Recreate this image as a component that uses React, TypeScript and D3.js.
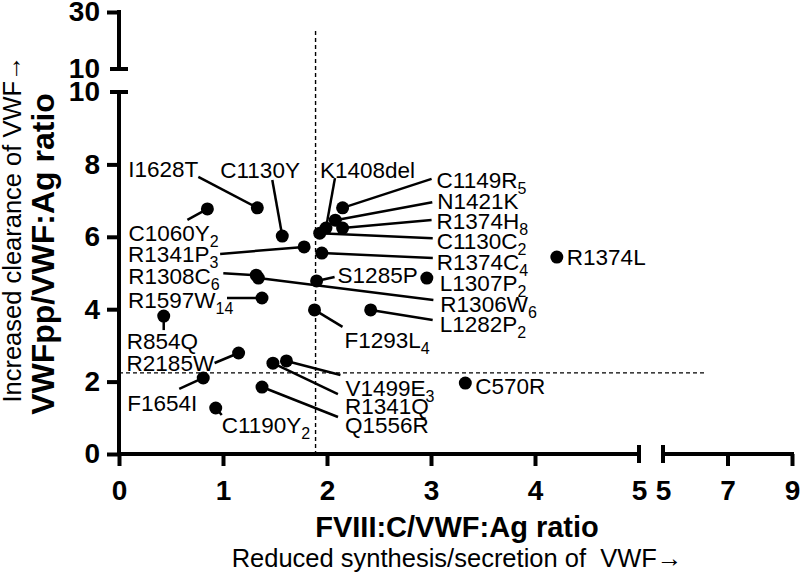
import { useEffect, useRef } from "react";
import * as d3 from "d3";

// ── Data ──────────────────────────────────────────────────────────────────
const MUTATIONS = [
  "I1628T", "C1130Y", "K1408del", "C1149R", "N1421K", "R1374H", "C1130C",
  "R1374C", "R1341P", "C1060Y", "R1374L", "S1285P", "L1307P", "R1308C",
  "R1306W", "R1597W", "L1282P", "F1293L", "R854Q", "R2185W", "F1654I",
  "V1499E", "R1341Q", "Q1556R", "C1190Y", "C570R",
];
const SUBSCRIPTS = [
  "", "", "", "5", "", "8", "2",
  "4", "3", "2", "", "", "2", "6",
  "6", "14", "2", "4", "", "", "",
  "3", "", "", "2", "",
];
const FVIII_RATIO = [
  1.33, 1.57, 1.99, 2.15, 2.08, 2.15, 1.93,
  1.95, 1.78, 0.85, 4.21, 1.90, 2.96, 1.32,
  1.34, 1.375, 2.42, 1.88, 0.43, 1.15, 0.81,
  1.61, 1.48, 1.375, 0.93, 3.33,
];
const VWFPP_RATIO = [
  6.80, 6.02, 6.24, 6.80, 6.46, 6.24, 6.10,
  5.55, 5.72, 6.77, 5.44, 4.78, 4.86, 4.94,
  4.86, 4.31, 3.98, 3.98, 3.81, 2.79, 2.10,
  2.57, 2.51, 1.85, 1.27, 1.96,
];

const X_TICKS_LOW = [0, 1, 2, 3, 4, 5];
const X_TICKS_HIGH = [5, 7, 9];
const Y_TICKS_LOW = [0, 2, 4, 6, 8, 10];
const Y_TICKS_HIGH = [10, 30];

const X_CUTOFF = 1.89;
const Y_CUTOFF = 2.24;

// ── Label layout: text offset [dx, dy] and leader end [lx, ly] from the dot (px)
const LABEL_LAYOUT: [number, number, number | null, number | null][] = [
  [-129, -38.5, -59, -31], // I1628T
  [-62, -66.5, -10, -56],  // C1130Y
  [-6, -58.5, 9, -50],     // K1408del
  [94, -28, 89, -29],      // C1149R5
  [102, -19.5, 97, -18],   // N1421K
  [94, -7, 89, -8],        // R1374H8
  [117, 8, 113, 5],        // C1130C2
  [115, 9, 111, 5],        // R1374C4
  [-176, 7, -84, 7],       // R1341P3
  [-79, 24, -20, 11],      // C1060Y2
  [10, 0, null, null],     // R1374L
  [21, -6, 18, -4],        // S1285P
  [13, 5, null, null],     // L1307P2
  [-128, 1, -33, -2],      // R1308C6
  [182, 26, 175, 22],      // R1306W6
  [-134, 2, -35, 0],       // R1597W14
  [69, 14, 62, 10],        // L1282P2
  [30, 29.5, 28, 17],      // F1293L4
  [-37, 25, 0, 14],        // R854Q
  [-112, 9.5, -24, 10],    // R2185W
  [-76, 24.5, -24, 11],    // F1654I
  [59, 26.5, 54, 14],      // V1499E3
  [72, 42.5, 65, 31],      // R1341Q
  [83, 37.5, 76, 30],      // Q1556R
  [6, 16.5, 6, 7],         // C1190Y2
  [10, 2.5, null, null],   // C570R
];

const FONT = "'Liberation Sans', Arial, Helvetica, sans-serif";
const LABEL_SIZE = 22.5;

export default function App() {
  const svgRef = useRef<SVGSVGElement>(null);

  useEffect(() => {
    if (!svgRef.current) return;
    const svg = d3.select(svgRef.current);
    svg.selectAll("*").remove();

    const AX = 4;
    const xLow = d3.scaleLinear().domain([0, 5]).range([119, 639]);
    const xHigh = d3.scaleLinear().domain([5, 9]).range([663, 792]);
    const yLow = d3.scaleLinear().domain([0, 10]).range([454, 92]);
    const yHigh = d3.scaleLinear().domain([10, 30]).range([69, 12]);
    const y0 = yLow(0);
    const x0 = xLow(0);

    // ── Dashed cut-off lines ──────────────────────────────────────
    svg.append("line")
      .attr("x1", xLow(X_CUTOFF)).attr("x2", xLow(X_CUTOFF))
      .attr("y1", yHigh(23.3)).attr("y2", y0)
      .attr("stroke", "#000").attr("stroke-width", 1.4)
      .attr("stroke-dasharray", "4,3");
    svg.append("line")
      .attr("x1", x0).attr("x2", xHigh(6.3))
      .attr("y1", yLow(Y_CUTOFF)).attr("y2", yLow(Y_CUTOFF))
      .attr("stroke", "#000").attr("stroke-width", 1.4)
      .attr("stroke-dasharray", "4,3");

    // ── Axes ──────────────────────────────────────────────────────
    const styleAxis = (g: d3.Selection<SVGGElement, unknown, null, undefined>) => {
      g.select(".domain").remove();
      g.selectAll(".tick line").attr("stroke", "#000").attr("stroke-width", AX);
      g.selectAll(".tick text")
        .attr("font-family", FONT).attr("font-size", 28)
        .attr("font-weight", "bold").attr("fill", "#000");
    };

    const gxLow = svg.append("g").attr("transform", `translate(0,${y0})`)
      .call(d3.axisBottom(xLow).tickValues(X_TICKS_LOW).tickSize(12).tickPadding(14).tickFormat(d3.format("d")));
    styleAxis(gxLow);
    const gxHigh = svg.append("g").attr("transform", `translate(0,${y0})`)
      .call(d3.axisBottom(xHigh).tickValues(X_TICKS_HIGH).tickSize(12).tickPadding(14).tickFormat(d3.format("d")));
    styleAxis(gxHigh);
    const gyLow = svg.append("g").attr("transform", `translate(${x0},0)`)
      .call(d3.axisLeft(yLow).tickValues(Y_TICKS_LOW).tickSize(12).tickPadding(7).tickFormat(d3.format("d")));
    styleAxis(gyLow);
    const gyHigh = svg.append("g").attr("transform", `translate(${x0},0)`)
      .call(d3.axisLeft(yHigh).tickValues(Y_TICKS_HIGH).tickSize(12).tickPadding(7).tickFormat(d3.format("d")));
    styleAxis(gyHigh);

    // break ends get caps instead of ticks
    gxLow.selectAll<SVGGElement, number>(".tick").filter((d) => d === 5).select("line").remove();
    gxHigh.selectAll<SVGGElement, number>(".tick").filter((d) => d === 5).select("line").remove();
    gyLow.selectAll<SVGGElement, number>(".tick").filter((d) => d === 10).select("line").remove();
    gyHigh.selectAll<SVGGElement, number>(".tick").filter((d) => d === 10).select("line").remove();

    const axisLine = (x1: number, y1: number, x2: number, y2: number) =>
      svg.append("line")
        .attr("x1", x1).attr("y1", y1).attr("x2", x2).attr("y2", y2)
        .attr("stroke", "#000").attr("stroke-width", AX).attr("stroke-linecap", "square");

    axisLine(xLow(0), y0, xLow(5), y0);
    axisLine(xHigh(5), y0, xHigh(9), y0);
    axisLine(x0, yLow(0), x0, yLow(10));
    axisLine(x0, yHigh(10), x0, yHigh(30));
    // caps
    axisLine(xLow(5), y0 - 7, xLow(5), y0 + 7);
    axisLine(xHigh(5), y0 - 7, xHigh(5), y0 + 7);
    axisLine(x0 - 7, yLow(10), x0 + 7, yLow(10));
    axisLine(x0 - 7, yHigh(10), x0 + 7, yHigh(10));

    // ── Points, leaders and labels ───────────────────────────────
    MUTATIONS.forEach((name, i) => {
      const cx = xLow(FVIII_RATIO[i]);
      const cy = yLow(VWFPP_RATIO[i]);
      const [tdx, tdy, ldx, ldy] = LABEL_LAYOUT[i];

      if (ldx !== null && ldy !== null) {
        svg.append("line")
          .attr("x1", cx).attr("y1", cy)
          .attr("x2", cx + ldx).attr("y2", cy + ldy)
          .attr("stroke", "#000").attr("stroke-width", 2.5);
      }

      svg.append("circle")
        .attr("cx", cx).attr("cy", cy).attr("r", 6.5).attr("fill", "#000");

      const t = svg.append("text")
        .attr("x", cx + tdx)
        .attr("y", cy + tdy + LABEL_SIZE * 0.36)
        .attr("font-family", FONT)
        .attr("font-size", LABEL_SIZE)
        .attr("fill", "#000");
      t.append("tspan").text(name);
      if (SUBSCRIPTS[i]) {
        t.append("tspan").attr("font-size", 16).attr("dy", 6).text(SUBSCRIPTS[i]);
      }
    });

    // ── Axis titles ──────────────────────────────────────────────
    svg.append("text")
      .attr("x", 457).attr("y", 537)
      .attr("text-anchor", "middle")
      .attr("font-family", FONT).attr("font-size", 29).attr("font-weight", "bold")
      .text("FVIII:C/VWF:Ag ratio");
    svg.append("text")
      .attr("x", 457).attr("y", 567)
      .attr("text-anchor", "middle")
      .attr("font-family", FONT).attr("font-size", 25.5)
      .style("white-space", "pre")
      .text("Reduced synthesis/secretion of  VWF\u2192");

    svg.append("text")
      .attr("transform", `translate(54,254) rotate(-90)`)
      .attr("text-anchor", "middle")
      .attr("font-family", FONT).attr("font-size", 32).attr("font-weight", "bold")
      .text("VWFpp/VWF:Ag ratio");
    svg.append("text")
      .attr("transform", `translate(21,229) rotate(-90)`)
      .attr("text-anchor", "middle")
      .attr("font-family", FONT).attr("font-size", 25.5)
      .text("Increased clearance of VWF\u2192");
  }, []);

  return (
    <svg
      ref={svgRef}
      width={800}
      height={580}
      style={{ position: "absolute", left: 0, top: 0, background: "#fff" }}
    />
  );
}
